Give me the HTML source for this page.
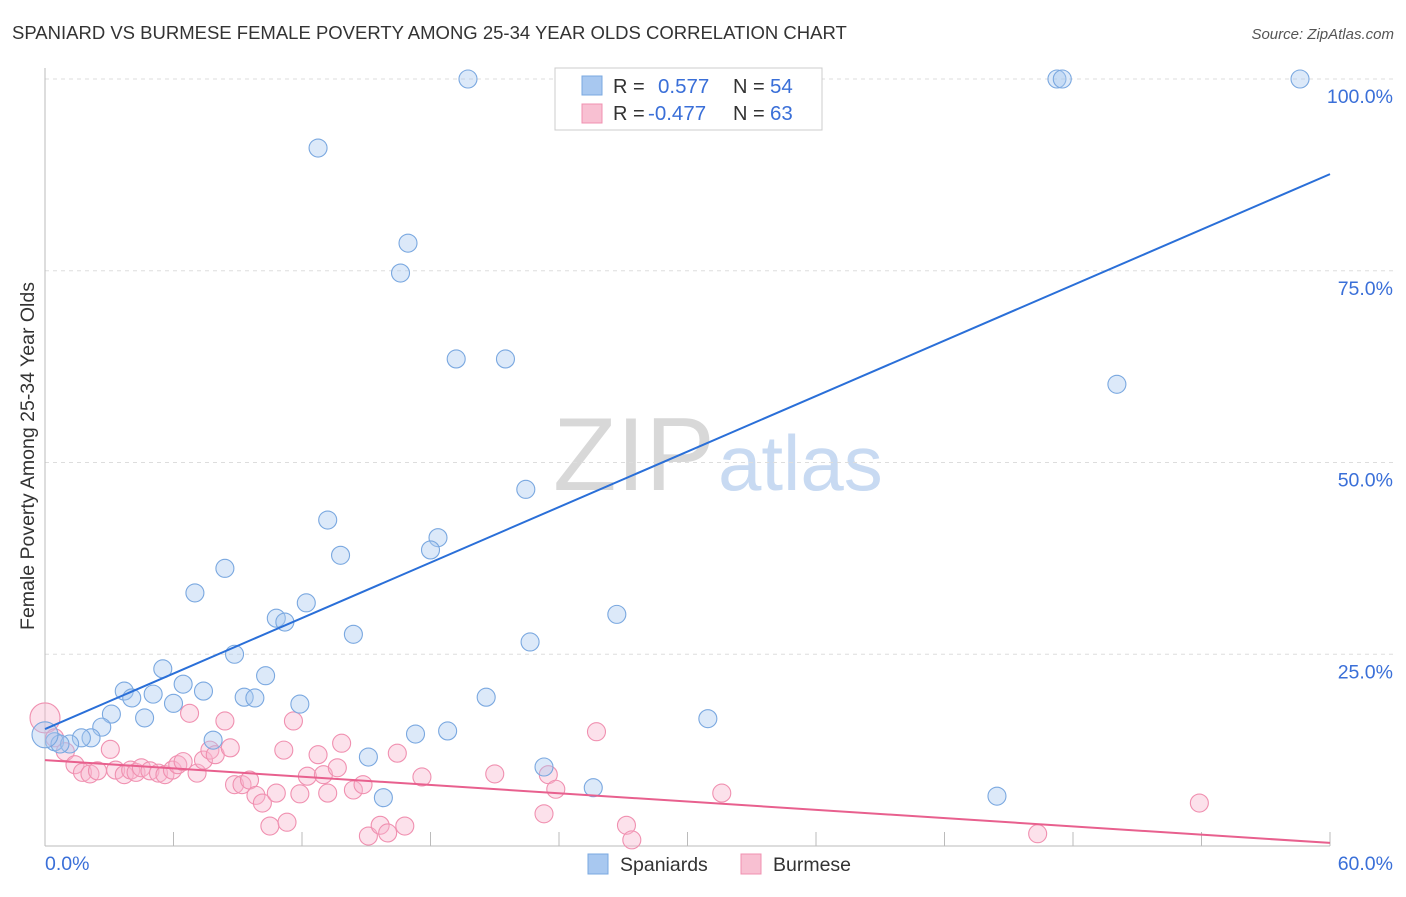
<!DOCTYPE html>
<html><head><meta charset="utf-8"><style>
body{margin:0;background:#fff;font-family:"Liberation Sans",sans-serif;}
svg text{font-family:"Liberation Sans",sans-serif;}
</style></head><body>
<svg id="chart" width="1406" height="892" viewBox="0 0 1406 892" xmlns="http://www.w3.org/2000/svg">
<text x="12" y="39" font-size="18.5" fill="#333">SPANIARD VS BURMESE FEMALE POVERTY AMONG 25-34 YEAR OLDS CORRELATION CHART</text>
<text x="1394" y="39" font-size="15" fill="#555" text-anchor="end" font-style="italic">Source: ZipAtlas.com</text>
<g>
<text x="553" y="490" font-size="104" fill="#d8d8d8" font-family="Liberation Serif, serif">ZIP</text>
<text x="718" y="490" font-size="78" fill="#c8daf2">atlas</text>
</g>
<g id="grid"></g>
<g id="axes"></g>
<text transform="translate(34,456) rotate(-90)" font-size="19.5" fill="#333" text-anchor="middle">Female Poverty Among 25-34 Year Olds</text>
<g id="marks"></g>
<g>
<rect x="555" y="68" width="267" height="62" fill="#fff" stroke="#ccc"/>
<rect x="582" y="76" width="20" height="19" fill="#a8c8f0" stroke="#7aa8e0"/>
<rect x="582" y="104" width="20" height="19" fill="#f8c0d2" stroke="#f090b0"/>
<text x="613" y="93" font-size="20" fill="#333">R = </text><text x="658" y="93" font-size="20.5" fill="#3a6fd8">0.577</text>
<text x="733" y="93" font-size="20" fill="#333">N = </text><text x="770" y="93" font-size="20.5" fill="#3a6fd8">54</text>
<text x="613" y="120" font-size="20" fill="#333">R = </text><text x="648" y="120" font-size="20.5" fill="#3a6fd8">-0.477</text>
<text x="733" y="120" font-size="20" fill="#333">N = </text><text x="770" y="120" font-size="20.5" fill="#3a6fd8">63</text>
</g>
<g>
<rect x="588" y="854" width="20" height="20" fill="#a8c8f0" stroke="#7aa8e0"/>
<text x="620" y="871" font-size="19.5" fill="#333">Spaniards</text>
<rect x="741" y="854" width="20" height="20" fill="#f8c0d2" stroke="#f090b0"/>
<text x="773" y="871" font-size="19.5" fill="#333">Burmese</text>
</g>
</svg>
<script>
const xTicks=[0,6,12,18,24,30,36,42,48,54,60];
const yTicks=[25,50,75,100];
const yTickLabels=["25.0%","50.0%","75.0%","100.0%"];
const xEndLabels=["0.0%","60.0%"];
const spanX=[19.75,12.75,47.25,47.5,58.6,16.95,16.6,19.2,21.5,50.05,22.45,13.2,18.35,18.0,13.8,8.4,7.0,12.2,10.8,11.2,26.7,14.4,22.65,8.85,5.5,10.3,6.45,3.7,5.05,7.4,4.05,9.3,9.8,20.6,6.0,11.9,3.1,4.65,30.95,2.65,2.15,1.7,7.85,17.3,18.8,0.45,1.15,0.7,15.1,23.3,25.6,15.8,44.45,0];
const spanY=[100,91.0,100,100,100,78.6,74.7,63.5,63.5,60.2,46.5,42.5,40.2,38.6,37.9,36.2,33.0,31.7,29.7,29.2,30.2,27.6,26.6,25.0,23.1,22.2,21.1,20.2,19.8,20.2,19.3,19.4,19.3,19.4,18.6,18.5,17.2,16.7,16.6,15.5,14.1,14.1,13.8,14.6,15.0,13.6,13.3,13.3,11.6,10.3,7.6,6.3,6.5,14.5];
const burX=[0,0.45,0.95,1.4,1.75,2.1,2.45,3.05,3.3,3.7,4.0,4.25,4.5,4.9,5.3,5.6,5.95,6.2,6.45,6.75,7.1,7.4,7.7,7.95,8.4,8.65,8.85,9.2,9.55,9.85,10.15,10.5,10.8,11.15,11.3,11.6,11.9,12.25,12.75,13.0,13.2,13.65,13.85,14.4,14.85,15.1,15.65,16.0,16.45,16.8,17.6,21.0,23.3,23.5,23.85,25.75,27.15,27.4,31.6,46.35,53.9];
const burY=[16.7,14.1,12.3,10.6,9.6,9.4,9.8,12.6,9.9,9.3,9.9,9.6,10.2,9.8,9.5,9.3,9.9,10.6,11.0,17.3,9.5,11.2,12.5,11.9,16.3,12.8,8.0,8.0,8.6,6.6,5.6,2.6,6.9,12.5,3.1,16.3,6.8,9.1,11.9,9.3,6.9,10.2,13.4,7.3,8.0,1.3,2.7,1.7,12.1,2.6,9.0,9.4,4.2,9.3,7.4,14.9,2.7,0.8,6.9,1.6,5.6];
const spanLine=[15.25,87.6];
const burLine=[11.2,0.4];
const NS="http://www.w3.org/2000/svg";
const X=v=>45+v*(1330-45)/60;
const Y=v=>846-v*7.67;
function mk(tag,attrs,parent){const e=document.createElementNS(NS,tag);for(const k in attrs)e.setAttribute(k,attrs[k]);parent.appendChild(e);return e;}
const grid=document.getElementById('grid'),axes=document.getElementById('axes'),marks=document.getElementById('marks');
yTicks.forEach((t,i)=>{
 const l=mk('line',{x1:45,x2:1393,y1:Y(t),y2:Y(t),stroke:'#ddd','stroke-dasharray':'4,4'},grid);
 
 
 const tx=mk('text',{x:1393,y:Y(t)+24,'font-size':19.5,fill:'#3a6fd8','text-anchor':'end'},axes);
 tx.textContent=yTickLabels[i];
 
 
});
const xa=mk('line',{x1:45,x2:1330,y1:846,y2:846,stroke:'#bbb'},axes);


const ya=mk('line',{x1:45,x2:45,y1:68,y2:846,stroke:'#bbb'},axes);


xTicks.forEach(t=>{
 const l=mk('line',{x1:X(t),x2:X(t),y1:832,y2:846,stroke:'#bbb'},axes);
 
 
});
const xl0=mk('text',{x:45,y:870,'font-size':19.5,fill:'#3a6fd8'},axes);xl0.textContent=xEndLabels[0];


const xl1=mk('text',{x:1393,y:870,'font-size':19.5,fill:'#3a6fd8','text-anchor':'end'},axes);xl1.textContent=xEndLabels[1];


burX.forEach((v,i)=>{
 const c=mk('circle',{cx:X(v),cy:Y(burY[i]),r:i===0?15:9,fill:'rgba(248,180,204,0.4)',stroke:'#f090b0','stroke-width':1.1},marks);
 
 
});
spanX.forEach((v,i)=>{
 const c=mk('circle',{cx:X(v),cy:Y(spanY[i]),r:i===spanX.length-1?13:9,fill:'rgba(168,200,240,0.4)',stroke:'#7aa8e0','stroke-width':1.1},marks);
 
 
});
const bl=mk('line',{x1:X(0),y1:Y(spanLine[0]),x2:X(60),y2:Y(spanLine[1]),stroke:'#2a6fd8','stroke-width':2},marks);


const pl=mk('line',{x1:X(0),y1:Y(burLine[0]),x2:X(60),y2:Y(burLine[1]),stroke:'#e8608e','stroke-width':2},marks);


</script>
</body></html>
